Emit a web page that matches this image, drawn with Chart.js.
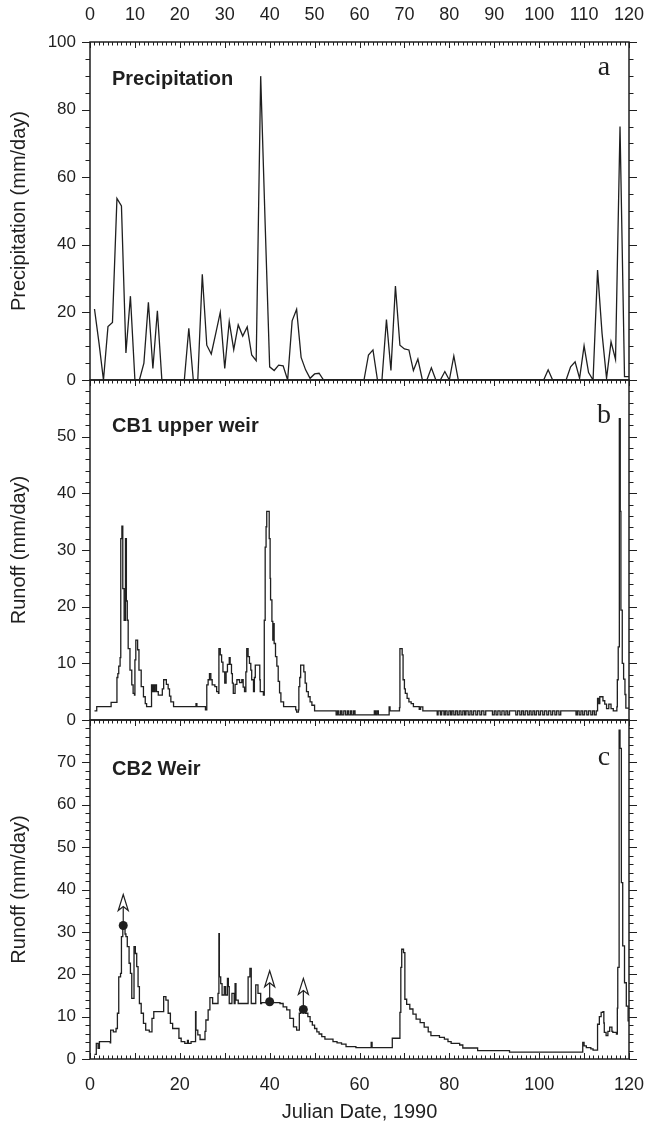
<!DOCTYPE html>
<html>
<head>
<meta charset="utf-8">
<script src="https://cdn.jsdelivr.net/npm/chart.js@4.4.1/dist/chart.umd.min.js"></script>
<style>
  html, body { margin: 0; padding: 0; background: #fff; }
  #wrap { position: relative; width: 646px; height: 1122px; overflow: hidden; }
  #wrap canvas { position: absolute; left: 0; }
</style>
</head>
<body>
<div id="wrap">
  <canvas id="chartA" width="646" height="400" style="top:0px"></canvas>
  <canvas id="chartB" width="646" height="380" style="top:360px"></canvas>
  <canvas id="chartC" width="646" height="422" style="top:700px"></canvas>
</div>
<script>
// ---- data ----
// daily precipitation, days 1..120 (mm/day)
const precipValues = [
  21, 11, 0, 15.8, 17, 53.7, 51.5, 8, 24.8, 0,
  0, 5, 23, 3.4, 20.5, 0, 0, 0, 0, 0,
  0, 15.3, 0, 0, 31.3, 10.3, 7.7, 13.8, 20, 3.4,
  17.3, 9, 16.3, 13, 15.7, 7.4, 5.7, 89.9, 46, 3.9,
  2.8, 4.4, 4.2, 0, 17.5, 20.9, 6.7, 3, 0.5, 1.8,
  2, 0, 0, 0, 0, 0, 0, 0, 0, 0,
  0, 7.4, 8.9, 0, 0, 17.9, 2.8, 27.8, 10.3, 9.2,
  8.9, 2.8, 6.2, 0, 0, 3.6, 0, 0, 2.5, 0,
  7.1, 0, 0, 0, 0, 0, 0, 0, 0, 0,
  0, 0, 0, 0, 0, 0, 0, 0, 0, 0,
  0, 3, 0, 0, 0, 0, 3.9, 5.4, 0.5, 10.1,
  2.2, 0, 32.5, 13.8, 0.5, 11.3, 6.1, 75, 1, 1
];
const precipDays = precipValues.map((v, i) => i + 1);

// CB1 upper weir runoff, [julian day, mm/day]
const cb1Points = [
  [1.0,1.6],[1.5,2.35],[4.7,3.1],[6.0,7.5],[6.2,8.2],[6.4,9.5],[6.7,11],[6.85,32],[7.1,34.2],[7.3,23.2],
  [7.6,17.6],[7.9,32],[8.1,21],[8.3,17.6],[8.5,12.6],[8.9,8.8],[9.3,6.2],[9.6,4.7],[9.9,4.4],[10.0,10.6],
  [10.2,14.1],[10.6,12.4],[10.9,8.8],[11.4,5.9],[11.9,4.1],[12.3,2.9],[12.6,2.35],[13.7,6.2],[13.9,5.0],[14.1,6.2],
  [14.3,5.0],[14.5,6.2],[14.8,5.0],[15.2,4.4],[16.1,5.5],[16.4,7.1],[17.0,6.3],[17.4,5.5],[17.7,4.2],[18.0,3.2],
  [18.6,2.35],[23.6,2.9],[23.8,2.35],[25.7,1.8],[26.0,6.2],[26.3,7.1],[26.6,8.2],[26.9,7.1],[27.2,6.2],[27.8,5.9],
  [28.2,5.0],[28.6,4.7],[28.7,12.6],[29.0,11.5],[29.3,10.2],[29.6,8.5],[30.0,6.5],[30.3,8.5],[30.6,9.8],[31.0,11.0],
  [31.2,9.8],[31.5,8.2],[31.7,6.5],[31.9,4.7],[32.3,6.3],[32.7,7.1],[33.3,6.6],[33.8,7.1],[34.1,5.8],[34.4,5.0],
  [34.7,8.5],[34.9,12.6],[35.2,11.2],[35.5,10.0],[35.8,8.8],[36.0,7.1],[36.4,5.0],[36.6,7.5],[36.8,9.7],[37.6,9.7],
  [37.8,7.1],[37.9,5.0],[38.6,4.4],[38.8,17.6],[39.0,30.5],[39.2,34.1],[39.35,36.8],[39.9,32.0],[40.1,25],[40.2,21.2],
  [40.5,17.4],[40.7,14.1],[40.85,17],[41.0,13.5],[41.3,11.2],[41.6,9.5],[41.9,6.8],[42.2,4.8],[42.5,3.2],[43.1,2.35],
  [45.8,1.8],[46.0,1.4],[46.4,1.8],[46.5,5.9],[46.7,7.5],[46.9,9.7],[47.6,8.5],[47.9,6.5],[48.2,5.0],[48.6,4.1],
  [49.0,3.2],[49.4,2.6],[50.0,1.6],[54.8,0.9],[55.1,1.6],[55.4,0.9],[55.8,1.6],[56.1,0.9],[56.5,1.6],[56.9,0.9],
  [57.3,1.6],[57.6,0.9],[58.0,1.6],[58.3,0.9],[58.7,1.6],[59.0,0.9],[63.3,1.6],[63.6,0.9],[63.9,1.6],[64.2,0.9],
  [66.6,2.3],[66.8,1.6],[68.9,2.2],[69.0,12.6],[69.5,11.5],[69.7,7.1],[70.0,5.5],[70.2,4.7],[70.6,3.8],[71.0,3.2],
  [71.5,2.9],[72.0,2.35],[73.3,1.9],[73.6,2.3],[74.1,1.6],[77.3,0.9],[77.5,1.6],[78.0,0.9],[78.3,1.6],[78.8,0.9],
  [79.1,1.6],[79.5,0.9],[79.9,1.6],[80.3,0.9],[80.6,1.6],[81.0,0.9],[81.4,1.6],[81.8,0.9],[82.2,1.6],[82.6,0.9],
  [83.0,1.6],[83.4,0.9],[83.7,1.6],[84.2,0.9],[84.6,1.6],[85.0,0.9],[85.4,1.6],[85.9,0.9],[86.3,1.6],[86.8,0.9],
  [87.2,1.6],[87.7,0.9],[88.1,1.6],[89.6,0.9],[90.0,1.6],[90.4,0.9],[90.8,1.6],[91.3,0.9],[91.7,1.6],[92.2,0.9],
  [92.6,1.6],[93.0,0.9],[93.4,1.6],[94.8,0.9],[95.2,1.6],[95.7,0.9],[96.1,1.6],[96.5,0.9],[96.9,1.6],[97.4,0.9],
  [97.8,1.6],[98.2,0.9],[98.6,1.6],[99.0,0.9],[99.4,1.6],[99.9,0.9],[100.3,1.6],[100.8,0.9],[101.2,1.6],[101.7,0.9],
  [102.1,1.6],[102.6,0.9],[103.0,1.6],[103.5,0.9],[103.9,1.6],[104.4,0.9],[104.8,1.6],[108.2,0.9],[108.5,1.6],[108.9,0.9],
  [109.3,1.6],[109.7,0.9],[110.1,1.6],[110.6,0.9],[111.0,1.6],[111.5,0.9],[111.9,1.6],[112.3,0.9],[112.7,1.6],[113.0,3.8],
  [113.3,2.9],[113.5,4.1],[113.9,4.1],[114.2,3.4],[114.6,2.8],[115.0,2.0],[115.5,2.8],[116.0,2.0],[116.5,1.6],[117.3,2.3],
  [117.4,7.1],[117.6,12.9],[117.85,53.2],[118.05,36.8],[118.2,19.4],[118.5,10],[118.8,7.2],[119.1,4.5],[119.3,2.1],[120.0,2.1]
];

// CB2 weir runoff, [julian day, mm/day]
const cb2Points = [
  [1.0,1.1],[1.4,3.7],[1.8,2.5],[2.1,4.1],[4.5,3.8],[4.6,6.8],[5.2,6.4],[5.8,7.2],[6.1,10.8],[6.4,19.4],
  [6.8,20.2],[7.0,28.9],[7.3,31.2],[7.8,29.5],[8.0,28.9],[8.3,26.5],[8.7,22.6],[9.0,20.2],[9.3,14.3],[9.8,26.5],
  [10.1,24.9],[10.4,21.8],[10.7,17.1],[11.0,13.1],[11.4,10.8],[11.9,8.4],[12.4,6.8],[13.2,6.4],[13.8,9.6],[14.2,11.2],
  [16.4,14.7],[16.9,13.9],[17.4,10.8],[17.9,8.4],[18.4,7.2],[19.8,4.9],[20.3,4.1],[21.1,3.7],[21.7,4.4],[21.9,3.7],
  [22.5,4.1],[23.5,11.2],[23.6,6.8],[24.0,5.7],[24.5,4.6],[25.6,6.5],[25.8,9.2],[26.3,11.6],[26.7,14.5],[27.3,13.1],
  [28.5,15.5],[28.7,29.6],[28.8,19.4],[29.1,17.8],[29.4,15.1],[29.9,17.1],[30.2,15.1],[30.6,19],[30.8,17.1],[31.0,13.1],
  [31.6,15.5],[32.1,13.1],[32.3,17.8],[32.5,13.9],[33.0,13.1],[35.2,19.4],[35.6,21.4],[35.9,13.1],[36.9,17.5],[37.4,15.5],
  [38.0,13.1],[38.2,13.3],[42.3,13.1],[43.0,12.3],[43.8,11.6],[44.5,9.6],[45.3,7.6],[46.0,6.8],[46.6,10.8],[46.9,11.6],
  [47.5,11.7],[48.0,10.8],[48.5,10],[49.0,8.8],[49.5,8],[50.0,7.2],[50.5,6.4],[51.0,5.9],[51.6,5.3],[52.3,4.7],
  [54.1,4.1],[55.0,3.8],[56.0,3.5],[57.0,2.9],[59.2,2.7],[62.6,3.9],[62.8,2.7],[67.3,4.9],[69.0,11],[69.2,21.6],
  [69.4,25.9],[69.8,25.1],[70.1,14.1],[70.5,12.9],[71.2,11.8],[71.9,10.6],[72.6,9.4],[73.5,8.6],[74.4,7.5],[75.3,6.4],
  [75.9,5.5],[77.8,5.1],[78.9,4.7],[79.7,4.1],[80.4,3.7],[82.3,3.3],[83.0,2.6],[86.3,2.0],[93.4,1.6],[109.7,3.9],
  [110.0,3.1],[110.5,2.7],[111.5,2.4],[112.0,2.1],[113.0,8.2],[113.4,10],[113.8,11],[114.2,11.2],[114.4,8.5],[114.5,6.3],
  [114.9,5.5],[115.3,6.5],[115.7,7.5],[116.2,6.5],[116.4,6.3],[117.2,5.9],[117.4,12],[117.5,21.6],[117.8,77.6],[118.0,73.3],
  [118.3,41.6],[118.6,26.7],[119.0,18],[119.4,12.5],[119.8,9],[120.0,9]
];

// lower-bound markers on CB2 (dot with upward arrow)
const cb2MarkerDays = [7.4, 40.0, 47.5];
const cb2MarkerValues = [31.5, 13.5, 11.7];

// ---- styling ----
const ink = '#1f1f1f';
const sans = "'Liberation Sans', Arial, Helvetica, sans-serif";
const serif = "'Liberation Serif', 'Times New Roman', serif";
Chart.defaults.font.family = sans;
Chart.defaults.color = ink;

// frame, inward day ticks, outward value ticks, panel names
const framePlugin = {
  id: 'frame',
  afterDraw(chart, args, opts) {
    const { ctx, chartArea: a } = chart;
    const xs = chart.scales.x, ys = chart.scales.y;
    ctx.save();
    ctx.strokeStyle = ink;
    ctx.lineWidth = 1;
    ctx.beginPath();
    for (let d = 0; d <= 120; d++) {
      const px = Math.round(xs.getPixelForValue(d)) + 0.5;
      const len = d % 10 === 0 ? 6 : 3.5;
      ctx.moveTo(px, a.top); ctx.lineTo(px, a.top + len);
      if (opts.bottomTicks) { ctx.moveTo(px, a.bottom); ctx.lineTo(px, a.bottom - len); }
    }
    for (let i = 0; i * opts.yMinor <= ys.max; i++) {
      const v = i * opts.yMinor;
      const py = Math.round(ys.getPixelForValue(v)) + 0.5;
      const len = v % opts.yMajor === 0 ? 8 : 4.5;
      ctx.moveTo(a.left, py); ctx.lineTo(a.left - len, py);
      ctx.moveTo(a.right, py); ctx.lineTo(a.right + len, py);
    }
    ctx.stroke();
    ctx.lineWidth = 1.5;
    ctx.strokeRect(a.left, a.top, a.right - a.left, a.bottom - a.top);

    ctx.fillStyle = ink;
    ctx.textBaseline = 'alphabetic';
    ctx.textAlign = 'left';
    ctx.font = 'bold 20px ' + sans;
    ctx.fillText(opts.name, a.left + 22, a.top + opts.nameY);
    ctx.textAlign = 'center';
    ctx.font = '28px ' + serif;
    ctx.fillText(opts.letter, a.right - 25, a.top + opts.letterY);
    ctx.restore();
  }
};

// open arrowheads above the marker dots
const arrowPlugin = {
  id: 'arrows',
  afterDatasetsDraw(chart) {
    const meta = chart.getDatasetMeta(1);
    const ctx = chart.ctx;
    ctx.save();
    ctx.strokeStyle = ink;
    ctx.lineWidth = 1.2;
    meta.data.forEach(pt => {
      const x = pt.x, y = pt.y;
      const tip = y - 31;
      ctx.beginPath();
      ctx.moveTo(x, y);
      ctx.lineTo(x, tip + 12);
      ctx.stroke();
      ctx.beginPath();
      ctx.moveTo(x, tip);
      ctx.lineTo(x + 5, tip + 16);
      ctx.lineTo(x, tip + 12);
      ctx.lineTo(x - 5, tip + 16);
      ctx.closePath();
      ctx.fillStyle = '#fff';
      ctx.fill();
      ctx.stroke();
    });
    ctx.restore();
  }
};

// keep the plot box fixed: no extra room for the end labels
function noEdgePadding(s) {
  s.paddingLeft = 0;
  s.paddingRight = 0;
}

function yAxis(max, step, title) {
  return {
    type: 'linear',
    min: 0,
    max: max,
    ticks: {
      stepSize: step,
      autoSkip: false,
      padding: 6,
      font: { size: 17 },
      callback: v => (v === max && max !== 100) ? null : v
    },
    grid: { display: false },
    border: { display: false },
    title: { display: true, text: title, font: { size: 20 }, padding: { top: 7, bottom: 0 } },
    afterFit: s => { s.width = 90; }
  };
}

const lineStyle = {
  borderColor: ink,
  borderWidth: 1.3,
  pointRadius: 0,
  tension: 0,
  fill: false
};

// a: precipitation
new Chart(document.getElementById('chartA'), {
  type: 'line',
  data: {
    datasets: [{
      ...lineStyle,
      data: precipDays.map((d, i) => ({ x: d, y: precipValues[i] }))
    }]
  },
  options: {
    responsive: false,
    animation: false,
    layout: { padding: { left: 0, right: 17, top: 0, bottom: 20 } },
    plugins: {
      legend: { display: false },
      tooltip: { enabled: false },
      frame: { yMinor: 5, yMajor: 20, name: 'Precipitation', nameY: 43, letter: 'a', letterY: 33 }
    },
    scales: {
      x: {
        type: 'linear', position: 'top', min: 0, max: 120,
        ticks: { stepSize: 10, autoSkip: false, maxRotation: 0, padding: 8, font: { size: 18 } },
        grid: { display: false },
        border: { display: false },
        afterFit: s => { s.height = 42; noEdgePadding(s); }
      },
      y: yAxis(100, 20, 'Precipitation (mm/day)')
    }
  },
  plugins: [framePlugin]
});

// b: CB1 upper weir
new Chart(document.getElementById('chartB'), {
  type: 'line',
  data: {
    datasets: [{
      ...lineStyle,
      stepped: true,
      data: cb1Points.map(p => ({ x: p[0], y: p[1] }))
    }]
  },
  options: {
    responsive: false,
    animation: false,
    layout: { padding: { left: 0, right: 17, top: 20, bottom: 20 } },
    plugins: {
      legend: { display: false },
      tooltip: { enabled: false },
      frame: { yMinor: 2, yMajor: 10, name: 'CB1 upper weir', nameY: 52, letter: 'b', letterY: 43 }
    },
    scales: {
      x: { type: 'linear', min: 0, max: 120, display: false },
      y: yAxis(60, 10, 'Runoff (mm/day)')
    }
  },
  plugins: [framePlugin]
});

// c: CB2 weir
new Chart(document.getElementById('chartC'), {
  type: 'line',
  data: {
    datasets: [{
      ...lineStyle,
      stepped: true,
      data: cb2Points.map(p => ({ x: p[0], y: p[1] }))
    }, {
      type: 'scatter',
      data: cb2MarkerDays.map((d, i) => ({ x: d, y: cb2MarkerValues[i] })),
      pointRadius: 4.5,
      pointBackgroundColor: ink,
      pointBorderWidth: 0,
      showLine: false
    }]
  },
  options: {
    responsive: false,
    animation: false,
    layout: { padding: { left: 0, right: 17, top: 20, bottom: 0 } },
    plugins: {
      legend: { display: false },
      tooltip: { enabled: false },
      frame: { yMinor: 2, yMajor: 10, bottomTicks: true, name: 'CB2 Weir', nameY: 55, letter: 'c', letterY: 45 }
    },
    scales: {
      x: {
        type: 'linear', position: 'bottom', min: 0, max: 120,
        ticks: { stepSize: 20, autoSkip: false, maxRotation: 0, padding: 7, font: { size: 18 } },
        grid: { display: false },
        border: { display: false },
        title: { display: true, text: 'Julian Date, 1990', font: { size: 20, lineHeight: 1 }, padding: { top: 0, bottom: 0 } },
        afterFit: s => { s.height = 63; noEdgePadding(s); }
      },
      y: yAxis(80, 10, 'Runoff (mm/day)')
    }
  },
  plugins: [framePlugin, arrowPlugin]
});
</script>
</body>
</html>
